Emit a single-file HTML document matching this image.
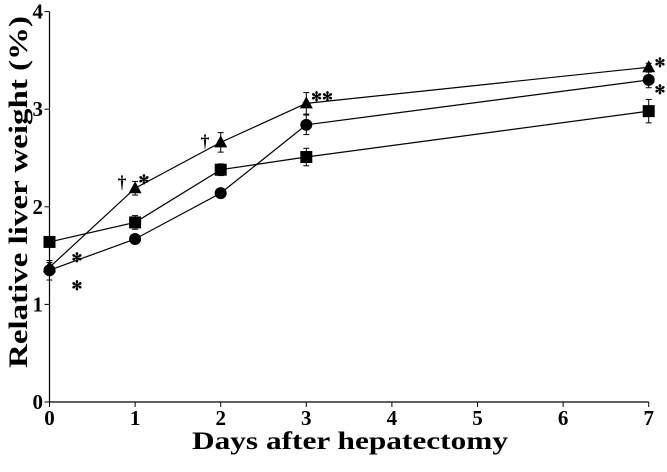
<!DOCTYPE html>
<html><head><meta charset="utf-8"><style>
html,body{margin:0;padding:0;background:#fff;}
svg text{font-family:"Liberation Serif",serif;font-weight:bold;fill:#000;}
</style></head><body>
<svg id="chart" width="667" height="467" viewBox="0 0 667 467" xmlns="http://www.w3.org/2000/svg">
<g id="axes"></g><g id="series"></g><g id="annot"></g>
<text transform="translate(27,192) rotate(-90)" text-anchor="middle" font-size="26" textLength="352" lengthAdjust="spacingAndGlyphs">Relative liver weight (%)</text>
<text x="350" y="449" text-anchor="middle" font-size="25" textLength="316" lengthAdjust="spacingAndGlyphs">Days after hepatectomy</text>
</svg>
<script>
const xTicks=[0,1,2,3,4,5,6,7];
const yTicks=[0,1,2,3,4];
const days=[0,1,2,3,7];
const triangleVals=[1.38,2.19,2.66,3.06,3.43];
const triangleErr=[0.05,0.07,0.1,0.11,0.04];
const circleVals=[1.35,1.67,2.14,2.84,3.3];
const circleErr=[0.1,0.03,0.04,0.1,0.08];
const squareVals=[1.64,1.84,2.38,2.51,2.98];
const squareErr=[0.05,0.07,0.06,0.09,0.12];
const NS="http://www.w3.org/2000/svg";
const X=v=>49.5+v*85.6, Y=v=>402-v*97.6;
function mk(tag,attrs,parent){const e=document.createElementNS(NS,tag);for(const k in attrs)e.setAttribute(k,attrs[k]);parent.appendChild(e);return e;}
const ax=document.getElementById('axes');
let l=mk('line',{x1:X(0),y1:Y(0),x2:X(7),y2:Y(0),stroke:'#000','stroke-width':1.2},ax);


l=mk('line',{x1:X(0),y1:Y(0),x2:X(0),y2:Y(4),stroke:'#000','stroke-width':1.2},ax);


xTicks.forEach(t=>{
 const tk=mk('line',{x1:X(t),y1:Y(0),x2:X(t),y2:Y(0)+5,stroke:'#000'},ax);
 
 
 const tx=mk('text',{x:X(t),y:425,'text-anchor':'middle','font-size':21},ax);tx.textContent=t;
 
 
});
yTicks.forEach(t=>{
 const tk=mk('line',{x1:X(0)-5,y1:Y(t),x2:X(0),y2:Y(t),stroke:'#000'},ax);
 
 
 const tx=mk('text',{x:43,y:Y(t)+7,'text-anchor':'end','font-size':21},ax);tx.textContent=t;
 
 
});
const sg=document.getElementById('series');
function series(vals,errs,shape,name){
 const g=mk('g',{},sg);
 
 
 const pl=mk('polyline',{points:days.map((d,i)=>X(d)+','+Y(vals[i])).join(' '),fill:'none',stroke:'#000','stroke-width':1.2},g);
 
 
 days.forEach((d,i)=>{
  const cx=X(d),cy=Y(vals[i]),e=errs[i]*97.6;
  mk('line',{x1:cx,y1:cy-e,x2:cx,y2:cy+e,stroke:'#000'},g);
  mk('line',{x1:cx-3,y1:cy-e,x2:cx+3,y2:cy-e,stroke:'#000'},g);
  mk('line',{x1:cx-3,y1:cy+e,x2:cx+3,y2:cy+e,stroke:'#000'},g);
  let m;
  if(shape==='tri')m=mk('polygon',{points:`${cx},${cy-7} ${cx-6.5},${cy+5} ${cx+6.5},${cy+5}`,fill:'#000'},g);
  else if(shape==='circ')m=mk('circle',{cx:cx,cy:cy,r:6,fill:'#000'},g);
  else m=mk('rect',{x:cx-6,y:cy-6,width:12,height:12,fill:'#000'},g);
  
  
 });
}
series(squareVals,squareErr,'sq','square');
series(circleVals,circleErr,'circ','circle');
series(triangleVals,triangleErr,'tri','triangle');
const an=document.getElementById('annot');
[[77,262,'✻'],[77,290,'✻'],[144,184,'✻'],[122,188,'†'],[205,147,'†'],[322,101,'✻✻'],[660,67,'✻'],[660,94,'✻']].forEach(a=>{
 const t=mk('text',{x:a[0],y:a[1],'font-size':a[2]==='†'?18:13,'font-weight':'normal','text-anchor':'middle',fill:'#333'},an);t.textContent=a[2];
 
 
});
</script>
</body></html>
